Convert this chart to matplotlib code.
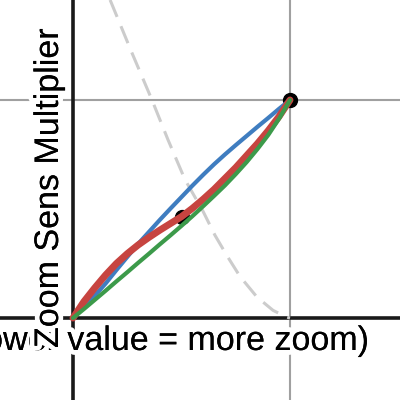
import matplotlib.pyplot as plt
import matplotlib.patheffects as pe

# values
xs = [0.0, 0.05, 0.1, 0.15, 0.2, 0.25, 0.3, 0.35, 0.4, 0.45, 0.5,
      0.55, 0.6, 0.65, 0.7, 0.75, 0.8, 0.85, 0.9, 0.95, 1.0]
blue_y = [0.0, 0.05, 0.102, 0.158, 0.22, 0.28, 0.34, 0.395, 0.45, 0.503, 0.555,
          0.607, 0.657, 0.705, 0.75, 0.793, 0.835, 0.877, 0.918, 0.96, 1.0]
red_y = [0.0, 0.075, 0.138, 0.197, 0.25, 0.295, 0.335, 0.37, 0.403, 0.434, 0.465,
         0.503, 0.545, 0.59, 0.64, 0.69, 0.745, 0.8, 0.86, 0.925, 1.0]
green_y = [0.0, 0.041, 0.083, 0.125, 0.168, 0.21, 0.253, 0.295, 0.338, 0.38, 0.423,
           0.467, 0.513, 0.56, 0.608, 0.66, 0.715, 0.775, 0.84, 0.915, 1.0]

dash_x = [0.171, 0.27, 0.364, 0.438, 0.516, 0.599, 0.654, 0.710, 0.770, 0.848, 0.922, 0.986, 1.0]
dash_y = [1.459, 1.22, 1.0, 0.817, 0.635, 0.49, 0.38, 0.285, 0.19, 0.096, 0.035, 0.004, 0.0]

pts_x = [0.5, 1.0]
pts_y = [0.465, 1.0]

x_label = "(lower value = more zoom)"
y_label = "Zoom Sens Multiplier"

fig = plt.figure(figsize=(4, 4), dpi=100)
ax = fig.add_axes([0, 0, 1, 1])
ax.set_xlim(-0.3364, 1.5069)
ax.set_ylim(-0.376, 1.4587)
ax.axis('off')

# grid and axes
ax.axvline(1, color='#a0a0a0', lw=1.5, zorder=1)
ax.axhline(1, color='#a0a0a0', lw=1.5, zorder=1)
ax.axvline(0, color='#1a1a1a', lw=2.6, zorder=2)
ax.axhline(0, color='#1a1a1a', lw=2.6, zorder=2)

ax.plot(dash_x, dash_y, color='#cccccc', lw=2.2, dashes=(6, 3.3), zorder=3)
ax.plot(pts_x, pts_y, 'o', color='black', ms=10, zorder=4)

ax.plot(xs, blue_y, color='#3f7dc0', lw=3, zorder=5, solid_capstyle='round')
ax.plot(xs, red_y, color='#c74440', lw=5, zorder=6, solid_capstyle='round')
ax.plot(xs, green_y, color='#3c9a4a', lw=3, zorder=7, solid_capstyle='round')

halo = [pe.withStroke(linewidth=7, foreground='white'), pe.Normal()]
fig.text(369 / 400, 50 / 400, x_label, ha='right', va='baseline',
         fontsize=24.5, family='Liberation Sans', path_effects=halo, zorder=10)
fig.text(58 / 400, 52 / 400, y_label, rotation=90, rotation_mode='anchor',
         ha='left', va='baseline', fontsize=24.5, family='Liberation Sans',
         path_effects=halo, zorder=11)

fig.savefig('out.png', dpi=100)
